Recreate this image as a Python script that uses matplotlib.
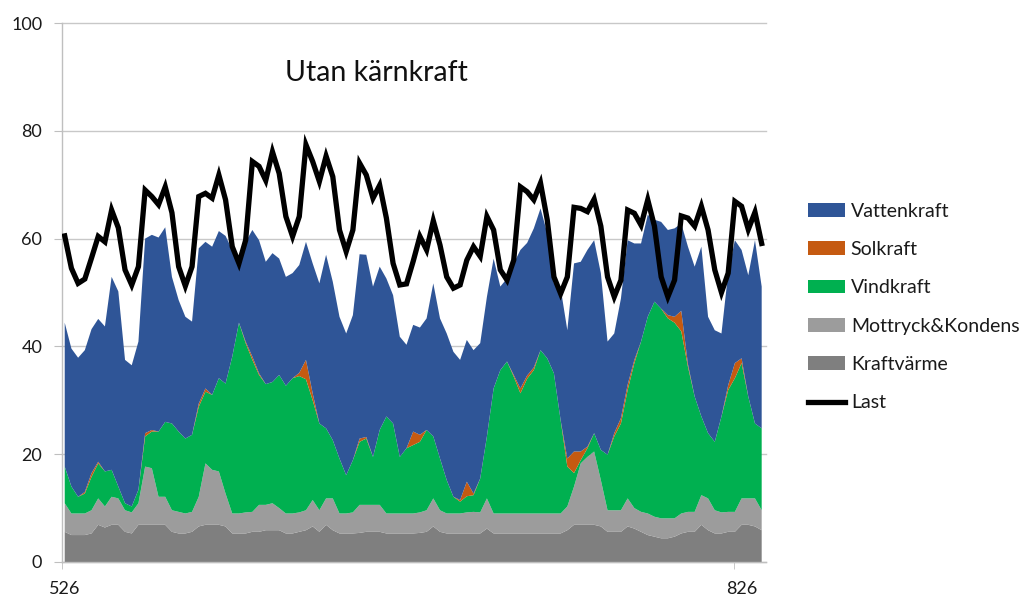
import numpy as np
import matplotlib
matplotlib.use("Agg")
import matplotlib.pyplot as plt
from matplotlib.patches import Patch
from matplotlib.lines import Line2D

plt.rcParams['font.family'] = ['Lato', 'DejaVu Sans']

# ---- data (values per day, index 0..104) ----
kraftvarme = [5.6, 5.0, 5.0, 5.0, 5.3, 6.9, 6.4, 6.9, 6.9, 5.6,
              5.3, 6.9, 6.9, 6.9, 6.9, 6.9, 5.6, 5.3, 5.3, 5.6,
              6.6, 6.9, 6.9, 6.9, 6.6, 5.3, 5.3, 5.3, 5.6, 5.6,
              5.9, 5.9, 5.9, 5.3, 5.3, 5.6, 5.9, 6.6, 5.6, 6.9,
              5.9, 5.3, 5.3, 5.3, 5.4, 5.6, 5.6, 5.6, 5.3, 5.3,
              5.3, 5.3, 5.3, 5.4, 5.6, 6.6, 5.6, 5.3, 5.3, 5.3,
              5.3, 5.3, 5.3, 6.2, 5.3, 5.3, 5.3, 5.3, 5.3, 5.3,
              5.3, 5.3, 5.3, 5.3, 5.3, 5.9, 6.9, 6.9, 6.9, 6.9,
              6.6, 5.6, 5.6, 5.6, 6.6, 6.2, 5.6, 5.0, 4.7, 4.4,
              4.4, 4.7, 5.3, 5.6, 5.6, 6.9, 5.9, 5.3, 5.3, 5.6,
              5.6, 6.9, 6.9, 6.6, 5.9]
mottryck = [5.3, 4.0, 4.0, 4.0, 4.3, 4.9, 3.9, 5.2, 4.9, 4.0,
            3.9, 4.0, 10.8, 10.5, 5.2, 5.2, 4.0, 4.0, 3.7, 3.7,
            5.5, 11.4, 10.2, 9.9, 6.1, 3.7, 3.7, 3.9, 3.7, 5.0,
            4.7, 5.0, 4.1, 3.7, 3.7, 3.6, 3.7, 4.9, 4.0, 4.9,
            5.9, 3.7, 3.7, 3.9, 5.2, 5.0, 5.0, 5.0, 3.7, 3.7,
            3.7, 3.7, 3.7, 3.8, 4.0, 5.2, 4.0, 3.7, 3.7, 3.7,
            3.9, 4.0, 3.9, 5.6, 3.7, 3.7, 3.7, 3.7, 3.7, 3.7,
            3.7, 3.7, 3.7, 3.7, 3.7, 4.4, 7.1, 11.4, 12.6, 13.6,
            8.6, 4.0, 4.0, 4.0, 5.2, 3.8, 3.7, 4.0, 3.7, 3.7,
            3.7, 3.4, 3.7, 3.7, 3.7, 5.5, 5.9, 4.3, 3.9, 3.7,
            3.7, 4.9, 4.9, 5.2, 3.7]
vindkraft = [6.8, 5.0, 3.1, 3.7, 6.2, 6.5, 6.5, 5.0, 2.2, 1.3,
             1.1, 2.5, 5.6, 6.8, 12.1, 13.9, 16.1, 14.9, 13.9, 14.3,
             16.7, 13.3, 13.9, 17.3, 20.4, 29.1, 35.4, 31.4, 28.2, 24.1,
             22.4, 22.5, 24.7, 23.7, 25.1, 25.3, 24.3, 18.5, 16.1, 13.0,
             10.8, 10.2, 7.1, 9.7, 11.7, 12.3, 8.9, 13.9, 18.0, 16.7,
             10.5, 12.1, 12.7, 13.1, 14.9, 11.5, 9.6, 6.2, 3.1, 2.2,
             3.0, 3.1, 6.3, 11.5, 23.2, 26.6, 28.2, 25.4, 22.3, 25.0,
             26.6, 30.3, 28.8, 26.0, 17.3, 7.4, 2.5, 0.6, 1.6, 3.4,
             5.6, 10.3, 13.7, 16.1, 20.1, 26.9, 31.6, 36.5, 39.9, 38.9,
             37.1, 36.3, 33.8, 26.9, 21.4, 14.6, 12.1, 12.7, 17.8, 22.6,
             24.8, 25.1, 18.9, 13.9, 15.2]
solkraft = [0.0, 0.0, 0.0, 0.3, 0.7, 0.3, 0.0, 0.0, 0.0, 0.0,
            0.0, 0.0, 0.6, 0.3, 0.0, 0.0, 0.0, 0.0, 0.0, 0.0,
            0.6, 0.6, 0.0, 0.0, 0.0, 0.0, 0.0, 0.3, 0.6, 0.3,
            0.0, 0.0, 0.0, 0.0, 0.0, 0.6, 3.6, 1.3, 0.0, 0.0,
            0.0, 0.0, 0.0, 0.0, 0.6, 0.3, 0.0, 0.0, 0.0, 0.0,
            0.0, 0.0, 2.5, 1.3, 0.0, 0.0, 0.0, 0.0, 0.0, 0.3,
            2.7, 0.3, 0.0, 0.0, 0.0, 0.0, 0.0, 0.3, 0.9, 0.6,
            0.5, 0.0, 0.0, 0.0, 0.0, 1.5, 4.0, 1.6, 0.3, 0.0,
            0.0, 0.0, 0.6, 1.0, 1.0, 0.6, 0.0, 0.0, 0.0, 0.0,
            0.6, 1.1, 3.8, 0.5, 0.0, 0.0, 0.0, 0.0, 0.0, 0.9,
            2.8, 0.9, 0.0, 0.0, 0.0]
vattenkraft = [26.7, 25.6, 25.8, 26.3, 26.7, 26.5, 26.9, 35.8, 36.2, 26.6,
               26.2, 27.5, 36.1, 36.2, 36.0, 36.1, 27.2, 24.4, 22.6, 21.0,
               28.8, 27.2, 27.5, 27.3, 27.4, 19.8, 11.9, 18.5, 23.5, 24.7,
               22.7, 23.9, 21.6, 20.2, 19.5, 20.0, 21.9, 24.1, 26.0, 32.2,
               29.4, 26.3, 26.3, 26.9, 34.2, 33.8, 31.6, 30.3, 25.6, 23.8,
               22.3, 19.2, 19.8, 19.9, 20.7, 28.4, 26.0, 27.2, 26.9, 26.0,
               26.3, 26.6, 25.1, 25.9, 24.1, 15.5, 15.4, 20.7, 25.7, 24.6,
               25.8, 26.3, 23.2, 16.7, 24.5, 23.8, 34.9, 35.2, 36.5, 35.8,
               32.8, 21.0, 18.5, 22.2, 26.8, 21.6, 18.2, 18.9, 15.2, 16.1,
               15.8, 16.4, 16.2, 21.8, 24.1, 31.5, 21.6, 20.7, 15.4, 20.8,
               22.8, 20.1, 22.5, 34.0, 26.3]
last = [60.5, 54.5, 51.7, 52.5, 56.4, 60.4, 59.4, 65.3, 62.0, 54.2,
        51.4, 54.8, 69.0, 67.8, 66.3, 69.6, 64.8, 54.8, 51.2, 54.8,
        67.8, 68.4, 67.5, 71.8, 67.2, 58.5, 55.4, 59.7, 74.3, 73.4,
        70.8, 76.1, 72.1, 64.1, 60.4, 64.1, 77.4, 74.3, 70.6, 75.3,
        71.5, 61.6, 57.6, 61.6, 74.0, 71.8, 67.5, 69.9, 63.8, 55.4,
        51.4, 51.6, 55.8, 60.4, 57.9, 63.3, 58.8, 52.9, 50.8, 51.4,
        56.0, 58.5, 56.7, 64.1, 61.6, 54.2, 52.3, 56.0, 69.6, 68.7,
        67.2, 70.3, 63.5, 52.9, 49.8, 52.9, 65.8, 65.6, 65.0, 67.3,
        62.3, 52.9, 49.2, 52.3, 65.3, 64.7, 62.5, 67.2, 62.3, 52.9,
        49.2, 52.3, 64.2, 63.8, 62.3, 66.0, 61.6, 54.2, 50.0, 53.6,
        66.9, 66.0, 61.7, 64.9, 59.1]

series_labels = ["Kraftvärme", "Mottryck&Kondens", "Vindkraft", "Solkraft", "Vattenkraft"]
series_colors = ["#7F7F7F", "#9C9C9C", "#00B050", "#C55A11", "#2F5597"]
load_label = "Last"
title_text = "Utan kärnkraft"
x_tick_labels = ["526", "826"]
x_tick_index = [0, 101]
y_ticks = [0, 20, 40, 60, 80, 100]

x = np.arange(len(last))

fig = plt.figure(figsize=(10.23, 5.97), dpi=100)
ax = fig.add_axes([61.7 / 1023, 1 - 562 / 597, (765.7 - 61.7) / 1023, (562 - 23) / 597])

ax.stackplot(x, kraftvarme, mottryck, vindkraft, solkraft, vattenkraft,
             colors=series_colors, labels=series_labels, linewidth=0, zorder=2)
ax.plot(x, last, color="black", linewidth=3.8, solid_joinstyle="miter", zorder=3)

ax.set_xlim(-0.45, 104.6)
ax.set_ylim(0, 100)
ax.set_yticks(y_ticks)
ax.yaxis.grid(True, color="#C8C8C8", linewidth=1.0, zorder=0)
for gl in ax.get_ygridlines():
    gl.set_clip_on(False)
ax.set_axisbelow(True)
for s in ["top", "right"]:
    ax.spines[s].set_visible(False)
for s in ["left", "bottom"]:
    ax.spines[s].set_color("#BFBFBF")
    ax.spines[s].set_linewidth(1.0)

ax.tick_params(axis="y", length=6, color="#BFBFBF", pad=8, labelsize=13, labelcolor="#1a1a1a")
ax.set_xticks(x_tick_index)
ax.set_xticklabels(x_tick_labels)
ax.tick_params(axis="x", which="major", length=0, pad=14, labelsize=13, labelcolor="#1a1a1a")
ax.set_xticks([-0.45, 99.9], minor=True)
ax.tick_params(axis="x", which="minor", length=5, color="#BFBFBF")

fig.text(376 / 1023, 1 - 73 / 597, title_text, ha="center", va="center",
         fontsize=20.5, color="#111111")

handles = [Patch(facecolor=series_colors[i], edgecolor="none") for i in [4, 3, 2, 1, 0]]
handles.append(Line2D([0], [0], color="black", linewidth=3.8))
labels = [series_labels[i] for i in [4, 3, 2, 1, 0]] + [load_label]
fig.legend(handles, labels, loc="center left", bbox_to_anchor=(808 / 1023, 1 - 307 / 597),
           frameon=False, fontsize=14, handlelength=1.9, handletextpad=0.3,
           labelspacing=1.1, borderpad=0, borderaxespad=0, labelcolor="#1a1a1a")

fig.savefig("out.png", dpi=100)
